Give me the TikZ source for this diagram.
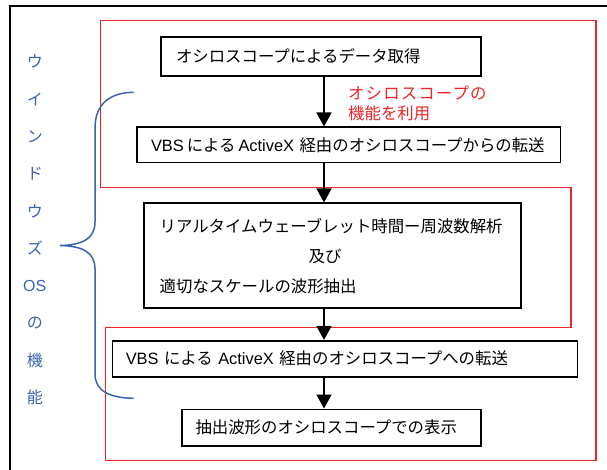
\documentclass[tikz,border=0pt]{standalone}
\usepackage{fontspec}
\setmainfont{Noto Sans CJK JP}
\newfontfamily\lat{Liberation Sans}
\newfontfamily\spjp[LetterSpace=7]{Noto Sans CJK JP}
\usetikzlibrary{arrows.meta,calc}
\definecolor{fred}{RGB}{235,38,42}
\definecolor{fblue}{RGB}{60,98,178}
\tikzset{
  box/.style={draw=black, line width=1.6pt, align=left, anchor=center, inner ysep=0pt, font=\fontsize{16.4}{20}\selectfont},
  txt/.style={inner sep=0pt, font=\fontsize{16.4}{20}\selectfont},
  arr/.style={line width=1.6pt, -{Triangle[width=15pt,length=14pt]}},
  redl/.style={draw=fred, line width=1.4pt},
  bluel/.style={draw=fblue, line width=1.5pt},
  side/.style={text=fblue, inner sep=0pt, font=\fontsize{16}{16}\selectfont},
  lab/.style={text=fred, inner sep=0pt, align=left, anchor=west, font=\fontsize{16.4}{20}\selectfont},
  frame/.style={draw=black, line width=1.8pt}
}
\begin{document}
\begin{tikzpicture}[x=1pt, y=-1pt]
\useasboundingbox (0,0) rectangle (607,470);
\clip (0,0) rectangle (607,470);
% outer frame
\draw[frame] (9.7,490) -- (9.7,5.8) -- (630,5.8);
% red outline
\draw[redl] (100.7,20.7) -- (596,20.7) -- (596,460.5) -- (105.3,460.5) -- (105.3,327.3) -- (571,327.3) -- (571,187.7) -- (100.7,187.7) -- cycle;
% boxes
\node[box, minimum width=320.3pt, minimum height=39.3pt, text width=289.7pt, inner xsep=15.3pt] (b1) at (320.85,56.4) {オシロスコープによるデータ取得};
\node[box, minimum width=423.9pt, minimum height=35.4pt, text width=395.3pt, inner xsep=14.3pt] (b2) at (348.65,145) {{\lat VBS}\hspace{3pt}による\hspace{3pt}{\lat ActiveX} 経由のオシロスコープからの転送};
\node[box, minimum width=376.7pt, minimum height=104.4pt, text width=350pt, inner xsep=13.35pt] (b3) at (332.35,255.5) {};
\node[txt, anchor=west] (t31) at (159.5,225.7) {リアルタイムウェーブレット時間ー周波数解析};
\node[txt] (t32) at (325,256.7) {及び};
\node[txt, anchor=west] (t33) at (159.5,286) {適切なスケールの波形抽出};
\node[box, minimum width=465.3pt, minimum height=36pt, text width=438.3pt, inner xsep=13.5pt] (b4) at (344.95,358.7) {{\lat VBS} による {\lat ActiveX} 経由のオシロスコープへの転送};
\node[box, minimum width=299pt, minimum height=36.7pt, text width=272pt, inner xsep=13.5pt] (b5) at (331.5,427.65) {抽出波形のオシロスコープでの表示};
% red label
\node[lab] (rl) at (348,103) {{\spjp オシロスコープの}\\機能を利用};
% arrows
\coordinate (ax) at (324,0);
\draw[arr] (b1.south -| ax) -- (b2.north -| ax);
\draw[arr] (b2.south -| ax) -- (b3.north -| ax);
\draw[arr] (b3.south -| ax) -- (b4.north -| ax);
\draw[arr] (b4.south -| ax) -- (b5.north -| ax);
% blue brace
\draw[bluel] (133.6,92.3) .. controls (110,92.5) and (95,104) .. (95,128) -- (95,222) .. controls (95,239) and (82,245) .. (60,245.5) .. controls (82,246) and (95,252) .. (95,269) -- (95,374) .. controls (95,391) and (110,398) .. (133.6,398.3);
% side text
\node[side] (s1) at (34.8,61.7) {ウ};
\node[side] (s2) at (34.8,99.0) {イ};
\node[side] (s3) at (34.8,136.3) {ン};
\node[side] (s4) at (34.8,173.6) {ド};
\node[side] (s5) at (34.8,210.9) {ウ};
\node[side] (s6) at (34.8,248.2) {ズ};
\node[side] (s7) at (34.8,285.5) {\lat OS};
\node[side] (s8) at (34.8,322.8) {の};
\node[side] (s9) at (34.8,360.1) {機};
\node[side] (s10) at (34.8,397.4) {能};
\end{tikzpicture}
\end{document}
